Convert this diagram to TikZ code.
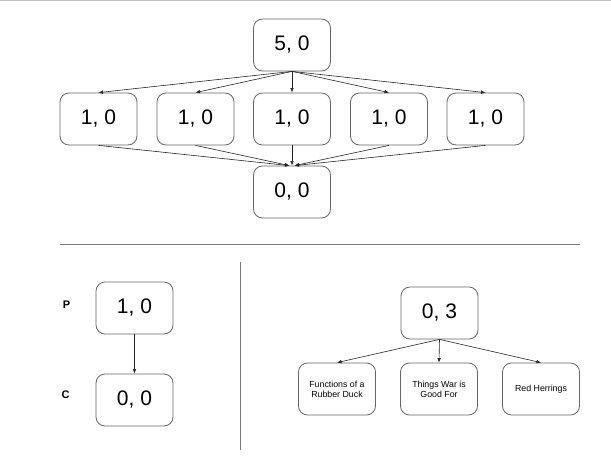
\documentclass[tikz,border=0pt]{standalone}
\usepackage{fontspec}
\setmainfont{Liberation Sans}
\usetikzlibrary{arrows.meta}
\definecolor{boxline}{HTML}{666666}
\definecolor{sepline}{HTML}{777777}
\begin{document}
\begin{tikzpicture}[x=1pt,y=-1pt,
  bigbox/.style={draw=boxline,line width=0.8pt,rounded corners=9pt,minimum width=77pt,minimum height=52pt,inner sep=0pt,font=\fontsize{21}{25}\selectfont},
  smallbox/.style={draw=boxline,line width=0.8pt,rounded corners=9pt,minimum width=77pt,minimum height=52pt,inner sep=0pt,align=center,font=\fontsize{8.8}{10}\selectfont},
  conn/.style={draw=black!85,line width=0.6pt,-{Latex[length=4.5pt,width=3.6pt]}},
  lbl/.style={font=\bfseries\fontsize{11}{13}\selectfont},
  sep/.style={draw=sepline,line width=0.8pt}]
\path[use as bounding box,fill=white] (0,0) rectangle (611,458);
\draw[black!25,line width=1pt] (0,0.5) -- (611,0.5);
% top tree
\node[bigbox] (t) at (292,45) {5, 0};
\node[bigbox] (a1) at (98.5,119) {1, 0};
\node[bigbox] (a2) at (195.5,119) {1, 0};
\node[bigbox] (a3) at (292,119) {1, 0};
\node[bigbox] (a4) at (389,119) {1, 0};
\node[bigbox] (a5) at (485.5,119) {1, 0};
\node[bigbox] (z) at (292,192) {0, 0};
\foreach \n in {a1,a2,a3,a4,a5} \draw[conn] (t.south) -- (\n.north);
\draw[conn] (a1.south) -- ([xshift=-2.5pt]z.north);
\draw[conn] (a2.south) -- ([xshift=-2.5pt]z.north);
\draw[conn] (a3.south) -- (z.north);
\draw[conn] (a4.south) -- ([xshift=2.5pt]z.north);
\draw[conn] (a5.south) -- ([xshift=2.5pt]z.north);
% separators
\coordinate (h1) at (60,244);
\coordinate (h2) at (580,244);
\draw[sep] (h1) -- (h2);
\coordinate (v1) at (240,262);
\coordinate (v2) at (240,450);
\draw[sep] (v1) -- (v2);
% bottom left
\node[lbl] (pl) at (66.5,305) {P};
\node[lbl] (cl) at (65.5,395) {C};
\node[bigbox] (p) at (134.5,308) {1, 0};
\node[bigbox] (c) at (134.5,400) {0, 0};
\draw[conn] (p.south) -- (c.north);
% bottom right
\node[bigbox] (r) at (439.5,313) {0, 3};
\node[smallbox] (b1) at (337,389) {Functions of a\\Rubber Duck};
\node[smallbox] (b2) at (439,389) {Things War is\\Good For};
\node[smallbox] (b3) at (541,389) {Red Herrings};
\foreach \n in {b1,b2,b3} \draw[conn] (r.south) -- (\n.north);
\end{tikzpicture}
\end{document}
